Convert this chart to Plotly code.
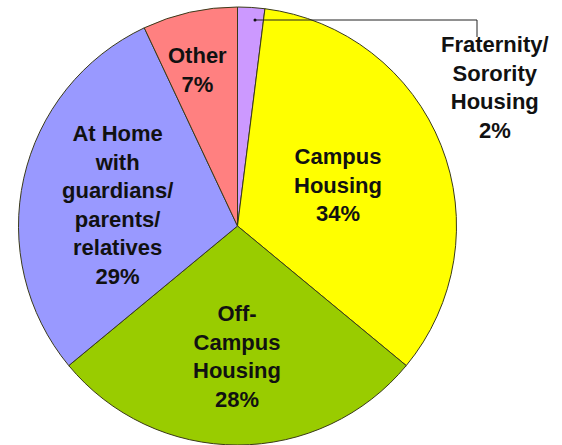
import plotly.graph_objects as go

categories = ["Fraternity/ Sorority Housing", "Campus Housing", "Off-Campus Housing",
              "At Home with guardians/ parents/ relatives", "Other"]
values = [2, 34, 28, 29, 7]
label_lines = ["Fraternity/<br>Sorority<br>Housing", "Campus<br>Housing", "Off-<br>Campus<br>Housing",
               "At Home<br>with<br>guardians/<br>parents/<br>relatives", "Other"]
colors = ["#CC99FF", "#FFFF00", "#99CC00", "#9999FF", "#FF8080"]

# label centers in pixels (x, y from top)
label_pos = [(495, 87), (338, 185), (237, 356), (117, 205), (197, 70)]

W, H = 562, 445
cx, cy, r = 237.5, 226, 219

fig = go.Figure(go.Pie(
    labels=categories, values=values, sort=False, direction="clockwise", rotation=0,
    marker=dict(colors=colors, line=dict(color="#3a3a1a", width=1)),
    textinfo="none", hoverinfo="label+percent", showlegend=False,
    domain=dict(x=[(cx - r) / W, (cx + r) / W], y=[(H - cy - r) / H, (H - cy + r) / H]),
))

total = sum(values)
for txt, v, (px, py) in zip(label_lines, values, label_pos):
    pct = round(100 * v / total)
    fig.add_annotation(
        x=px / W, y=1 - py / H, xref="paper", yref="paper",
        text=f"{txt}<br>{pct}%", showarrow=False, xanchor="center", yanchor="middle",
        align="center", font=dict(family="Liberation Sans, Arial", size=22, color="#111111"),
    )

# leader line for the small slice
fig.add_shape(type="path", xref="paper", yref="paper",
              path=f"M {255/W} {1-20/H} L {477/W} {1-20/H} L {477/W} {1-37/H}",
              line=dict(color="#222222", width=1))
fig.add_shape(type="circle", xref="paper", yref="paper",
              x0=253.5 / W, x1=256.5 / W, y0=1 - 21.5 / H, y1=1 - 18.5 / H,
              fillcolor="#111111", line=dict(width=0))

fig.update_layout(width=W, height=H, margin=dict(l=0, r=0, t=0, b=0),
                  paper_bgcolor="white", plot_bgcolor="white",
                  font=dict(family="Liberation Sans, Arial"))
fig.update_annotations(font_weight="bold")
fig.write_html("out.html", config={"displayModeBar": False},
               post_script="document.body.style.margin='0';document.body.style.overflow='hidden';")
